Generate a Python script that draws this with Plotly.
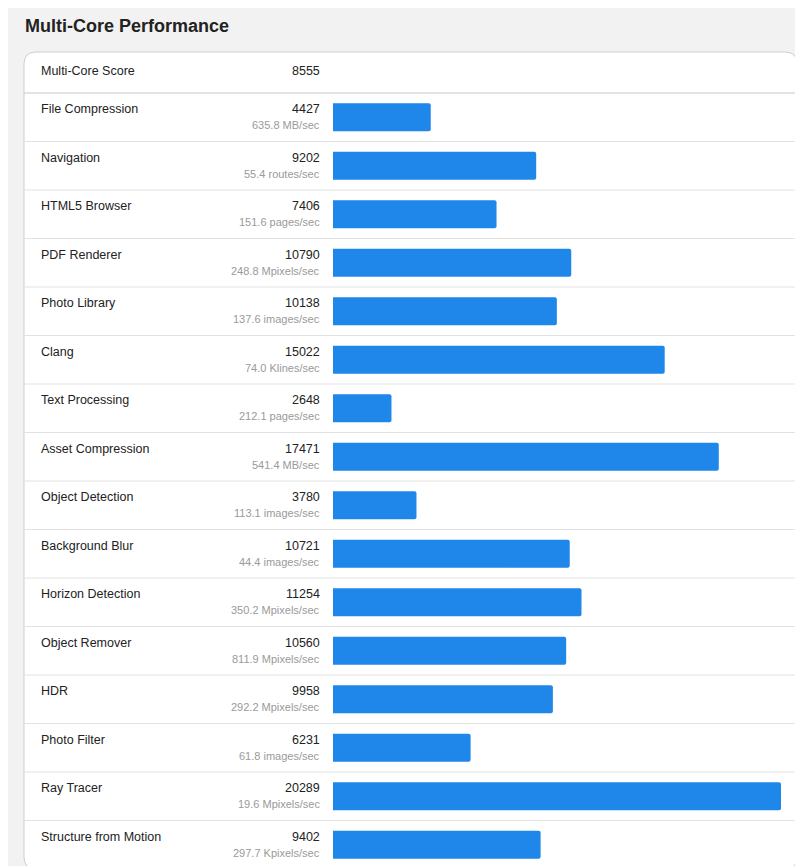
import plotly.graph_objects as go

W, H = 803, 866

workloads = ['File Compression', 'Navigation', 'HTML5 Browser', 'PDF Renderer', 'Photo Library',
             'Clang', 'Text Processing', 'Asset Compression', 'Object Detection', 'Background Blur',
             'Horizon Detection', 'Object Remover', 'HDR', 'Photo Filter', 'Ray Tracer',
             'Structure from Motion']
scores = [4427, 9202, 7406, 10790, 10138, 15022, 2648, 17471, 3780, 10721,
          11254, 10560, 9958, 6231, 20289, 9402]
rates = ['635.8 MB/sec', '55.4 routes/sec', '151.6 pages/sec', '248.8 Mpixels/sec',
         '137.6 images/sec', '74.0 Klines/sec', '212.1 pages/sec', '541.4 MB/sec',
         '113.1 images/sec', '44.4 images/sec', '350.2 Mpixels/sec', '811.9 Mpixels/sec',
         '292.2 Mpixels/sec', '61.8 images/sec', '19.6 Mpixels/sec', '297.7 Kpixels/sec']
total_label = 'Multi-Core Score'
total_score = 8555


def px(x):
    return x / W


def py(y):
    return 1 - y / H


rows = list(range(len(workloads)))
font = "Liberation Sans, Arial, sans-serif"

fig = go.Figure(go.Bar(
    x=scores, y=rows, orientation='h', width=0.58,
    marker=dict(color='#1f87ea', cornerradius=2, line=dict(width=0)),
    hoverinfo='skip'
))

# card with rounded corners
x0, x1, y0, y1, r = px(16), px(789), py(44), py(861), 12
rx, ry = r / W, r / H
path = (f"M {x0+rx},{y0} L {x1-rx},{y0} Q {x1},{y0} {x1},{y0-ry} "
        f"L {x1},{y1+ry} Q {x1},{y1} {x1-rx},{y1} L {x0+rx},{y1} "
        f"Q {x0},{y1} {x0},{y1+ry} L {x0},{y0-ry} Q {x0},{y0} {x0+rx},{y0} Z")
shapes = [dict(type='path', xref='paper', yref='paper', path=path,
               fillcolor='white', line=dict(color='#cfcfcf', width=1), layer='below')]
shapes.append(dict(type='line', xref='paper', yref='paper', x0=x0, x1=x1,
                   y0=py(85), y1=py(85), line=dict(color='#c8c8c8', width=1)))
for i in rows[:-1]:
    shapes.append(dict(type='line', xref='paper', yref='y', x0=x0, x1=x1,
                       y0=i + 0.5, y1=i + 0.5, line=dict(color='#e2e2e2', width=1)))

ann = [dict(text='<b>Multi-Core Performance</b>', xref='paper', yref='paper', x=px(15), y=py(18),
            xanchor='left', yanchor='middle', showarrow=False, font=dict(size=18, color='#222')),
       dict(text=total_label, xref='paper', yref='paper', x=px(31), y=py(63),
            xanchor='left', yanchor='middle', showarrow=False, font=dict(size=12.5, color='#222')),
       dict(text=str(total_score), xref='paper', yref='paper', x=px(314), y=py(63),
            xanchor='right', yanchor='middle', showarrow=False, font=dict(size=12.5, color='#222'))]
for i, (n, s, u) in enumerate(zip(workloads, scores, rates)):
    ann.append(dict(text=n, xref='paper', yref='y', x=px(31), y=i, yshift=8,
                    xanchor='left', yanchor='middle', showarrow=False, font=dict(size=12.5, color='#222')))
    ann.append(dict(text=str(s), xref='paper', yref='y', x=px(314), y=i, yshift=8,
                    xanchor='right', yanchor='middle', showarrow=False, font=dict(size=12.5, color='#222')))
    ann.append(dict(text=u, xref='paper', yref='y', x=px(314), y=i, yshift=-8,
                    xanchor='right', yanchor='middle', showarrow=False, font=dict(size=11, color='#9a9a9a')))

fig.update_layout(
    width=W, height=H, margin=dict(l=0, r=0, t=0, b=0),
    paper_bgcolor='#f2f2f2', plot_bgcolor='rgba(0,0,0,0)',
    font=dict(family=font), showlegend=False,
    xaxis=dict(domain=[px(325), px(773)], range=[0, max(scores)], visible=False, fixedrange=True),
    yaxis=dict(domain=[py(861), py(85)], range=[len(rows) - 0.5, -0.5], visible=False, fixedrange=True),
    shapes=shapes, annotations=ann,
)
fig.write_html("out.html", config={'displayModeBar': False})
